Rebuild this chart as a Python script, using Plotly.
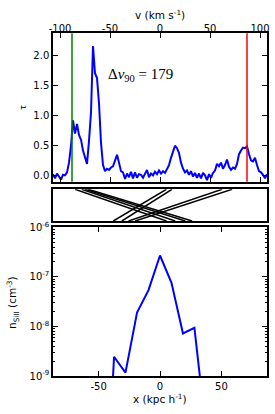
import plotly.graph_objects as go

# ---------------- data ----------------
v_kms = [-107, -105, -103, -101, -99, -97, -95, -93, -91, -89, -87, -85, -83, -81, -79, -77, -75, -73,
         -71, -69, -67, -65, -63, -61, -59, -57, -55, -53, -51, -49, -47, -45, -43, -41, -39, -37,
         -35, -33, -31, -29, -27, -25, -23, -21, -19, -17, -15, -13, -11, -9, -7, -5, -3, -1,
         1, 3, 5, 7, 9, 11, 13, 15, 17, 19, 21, 23, 25, 27, 29, 31, 33, 35,
         37, 39, 41, 43, 45, 47, 49, 51, 53, 55, 57, 59, 61, 63, 65, 67, 69, 71,
         73, 75, 77, 79, 81, 83, 85, 87, 89, 91, 93, 95, 97, 99, 101, 103, 105, 107]
tau = [0.03, -0.04, 0.04, -0.02, -0.06, 0.02, 0.01, 0.06, 0.22, 0.50, 0.92, 0.70, 0.86, 0.68, 0.60, 0.42, 0.30, 0.20,
       0.58, 1.05, 2.15, 1.70, 1.62, 1.20, 0.55, 0.18, 0.08, 0.12, 0.10, 0.14, 0.16, 0.24, 0.35, 0.22, 0.08, 0.06,
       -0.05, 0.04, -0.02, 0.07, -0.04, 0.06, -0.03, 0.03, 0.02, -0.03, 0.05, 0.10, -0.02, 0.04, 0.01, 0.07, 0.03, 0.09,
       0.04, 0.08, 0.05, 0.12, 0.18, 0.30, 0.40, 0.50, 0.46, 0.38, 0.22, 0.12, 0.06, 0.09, 0.02, 0.08, -0.01, 0.05,
       -0.03, 0.04, -0.04, 0.05, 0.01, -0.07, 0.03, -0.03, 0.05, 0.09, 0.20, 0.16, 0.22, 0.12, 0.18, 0.27, 0.15, 0.10,
       0.14, 0.12, 0.20, 0.36, 0.42, 0.47, 0.46, 0.49, 0.36, 0.26, 0.24, 0.30, 0.18, 0.08, 0.06, 0.02, -0.04, 0.03]
v90_low = -88.0
v90_high = 87.0
dv90_label = "179"

# sightline geometry sketch (fractions of panel): start/end x at top and bottom
down_top = [0.103, 0.134, 0.150, 0.165]
down_bot = [0.530, 0.571, 0.618, 0.650]
up_bot = [0.282, 0.322, 0.353, 0.384]
up_top = [0.530, 0.556, 0.790, 0.837]

x_kpc = [-56.1, -46.8, -37.4, -28.1, -18.7, -9.35, 0.0, 9.35, 18.7, 28.0, 37.4, 46.8]
n_si = [1e-15, 1e-13, 2.45e-9, 1.17e-9, 1.9e-8, 5.4e-8, 2.7e-7, 7.6e-8, 7.2e-9, 9.4e-9, 8e-11, 1e-14]

v_ticks = [-100, -50, 0, 50, 100]
v_ticktext = ["-100", "-50", "0", "50", "100"]
tau_ticks = [0.0, 0.5, 1.0, 1.5, 2.0]
x_ticks = [-50, 0, 50]
x_ticktext = ["-50", "0", "50"]
n_ticks = [1e-9, 1e-8, 1e-7, 1e-6]
n_ticktext = ["10<sup>-9</sup>", "10<sup>-8</sup>", "10<sup>-7</sup>", "10<sup>-6</sup>"]
n_minor = [m * d for d in (1e-9, 1e-8, 1e-7) for m in (2, 3, 4, 5, 6, 7, 8, 9)]

# ---------------- figure ----------------
W, H = 275, 414
def px_x(p):
    return p / W
def px_y(p):
    return 1 - p / H

x0, x1 = px_x(53), px_x(267)
top_dom = [px_y(181.7), px_y(33.3)]
mid_dom = [px_y(221), px_y(189.3)]
bot_dom = [px_y(376), px_y(227.3)]

fig = go.Figure()
fig.add_trace(go.Scatter(x=v_kms, y=tau, mode="lines", line=dict(color="#0000ff", width=2),
                         xaxis="x", yaxis="y", showlegend=False))
fig.add_trace(go.Scatter(x=[v90_low, v90_low], y=[-1, 3], mode="lines", line=dict(color="#008000", width=1.5),
                         xaxis="x", yaxis="y", showlegend=False))
fig.add_trace(go.Scatter(x=[v90_high, v90_high], y=[-1, 3], mode="lines", line=dict(color="#ff0000", width=1.5),
                         xaxis="x", yaxis="y", showlegend=False))

for a, b in zip(down_top, down_bot):
    fig.add_trace(go.Scatter(x=[a, b], y=[1, 0], mode="lines", line=dict(color="black", width=1.5),
                             xaxis="x2", yaxis="y2", showlegend=False))
for a, b in zip(up_bot, up_top):
    fig.add_trace(go.Scatter(x=[a, b], y=[0, 1], mode="lines", line=dict(color="black", width=1.5),
                             xaxis="x2", yaxis="y2", showlegend=False))

fig.add_trace(go.Scatter(x=x_kpc, y=n_si, mode="lines", line=dict(color="#0000ff", width=2),
                         xaxis="x3", yaxis="y3", showlegend=False))

font = dict(family="DejaVu Sans", size=10, color="black")
axcommon = dict(showline=True, linecolor="black", linewidth=1.5, mirror="ticks", ticks="inside",
                ticklen=5, tickwidth=1, tickcolor="black", showgrid=False, zeroline=False,
                tickfont=font, automargin=False)

fig.update_layout(
    width=W, height=H, margin=dict(l=0, r=0, t=0, b=0),
    paper_bgcolor="white", plot_bgcolor="white",
    xaxis=dict(domain=[x0, x1], anchor="y", side="top", range=[-107, 107],
               tickvals=v_ticks, ticktext=v_ticktext, ticklabelstandoff=-4, **axcommon),
    yaxis=dict(domain=top_dom, anchor="x", range=[-0.095, 2.36], tickvals=tau_ticks,
               ticktext=["0.0", "0.5", "1.0", "1.5", "2.0"], **axcommon),
    xaxis2=dict(domain=[x0, x1], anchor="y2", range=[0, 1], showticklabels=False,
                **{**axcommon, "ticks": ""}),
    yaxis2=dict(domain=mid_dom, anchor="x2", range=[0, 1], showticklabels=False,
                **{**axcommon, "ticks": ""}),
    xaxis3=dict(domain=[x0, x1], anchor="y3", range=[-87.1, 87.1], tickvals=x_ticks,
                ticktext=x_ticktext, **axcommon),
    yaxis3=dict(domain=bot_dom, anchor="x3", type="log", range=[-9, -6], tickvals=n_ticks,
                ticktext=n_ticktext,
                minor=dict(ticks="inside", ticklen=2.5, tickcolor="black", tickwidth=1, showgrid=False,
                           tickvals=n_minor),
                **axcommon),
)

ann = []
ann.append(dict(text="v (km s<sup>-1</sup>)", x=px_x(160), y=px_y(14), xref="paper", yref="paper",
                showarrow=False, font=dict(family="DejaVu Sans", size=10.5, color="black"),
                xanchor="center", yanchor="middle"))
ann.append(dict(text="τ", x=px_x(23), y=px_y(108), xref="paper", yref="paper", textangle=-90,
                showarrow=False, font=dict(family="DejaVu Sans", size=8, color="black"),
                xanchor="center", yanchor="middle"))
ann.append(dict(text="Δ<i>v</i><sub>90</sub> = " + dv90_label, x=px_x(106), y=px_y(75),
                xref="paper", yref="paper", showarrow=False,
                font=dict(family="Liberation Serif", size=15, color="black"),
                xanchor="left", yanchor="middle"))
ann.append(dict(text="n<sub>SiII</sub> (cm<sup>-3</sup>)", x=px_x(13), y=px_y(303), xref="paper",
                yref="paper", textangle=-90, showarrow=False,
                font=dict(family="DejaVu Sans", size=10.5, color="black"),
                xanchor="center", yanchor="middle"))
ann.append(dict(text="x (kpc h<sup>-1</sup>)", x=px_x(160), y=px_y(398), xref="paper", yref="paper",
                showarrow=False, font=dict(family="DejaVu Sans", size=10.5, color="black"),
                xanchor="center", yanchor="middle"))
fig.update_layout(annotations=ann)

fig.write_html("out.html", config={"displayModeBar": False},
               post_script="document.body.style.margin='0';document.body.style.overflow='hidden';")
